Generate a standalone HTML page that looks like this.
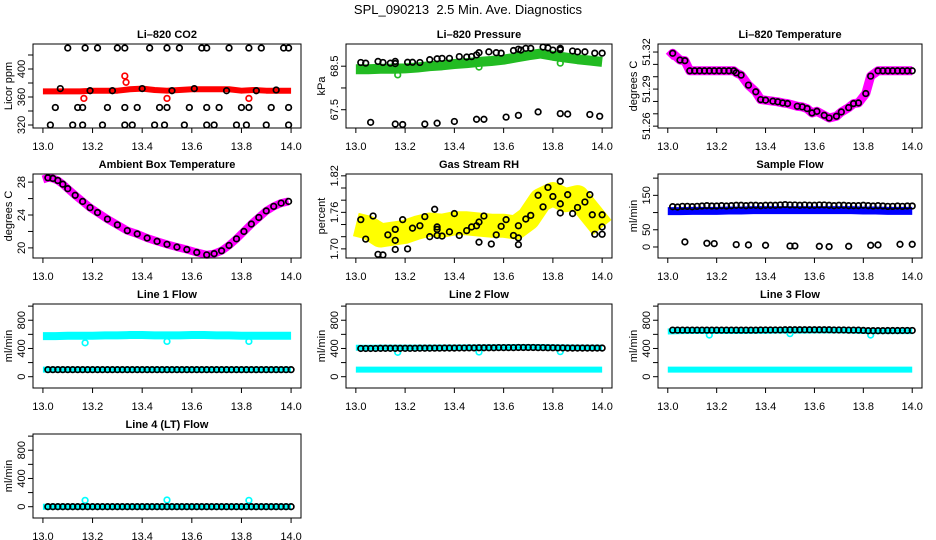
<!DOCTYPE html>
<html><head><meta charset="utf-8">
<style>
html,body{margin:0;padding:0;background:#fff;}
svg{display:block;font-family:"Liberation Sans",sans-serif;}
</style></head>
<body>
<svg id="chart" width="936" height="540" viewBox="0 0 936 540" xmlns="http://www.w3.org/2000/svg">
<rect width="936" height="540" fill="#fff"/>
<text x="468" y="14" text-anchor="middle" font-size="13">SPL_090213 &#160;2.5 Min. Ave. Diagnostics</text>
</svg>
<script>
// ---------- shared time grids ----------
const tB = [13.02,13.04,13.06,13.08,13.10,13.12,13.14,13.16,13.18,13.20,13.22,13.24,13.26,13.28,13.30,13.32,13.34,13.36,13.38,13.40,13.42,13.44,13.46,13.48,13.50,13.52,13.54,13.56,13.58,13.60,13.62,13.64,13.66,13.68,13.70,13.72,13.74,13.76,13.78,13.80,13.82,13.84,13.86,13.88,13.90,13.92,13.94,13.96,13.98,14.00];
const tBand = [13.00,13.05,13.10,13.15,13.20,13.25,13.30,13.35,13.40,13.45,13.50,13.55,13.60,13.65,13.70,13.75,13.80,13.85,13.90,13.95,14.00];
const tOut = [13.17,13.50,13.83];
const xTicks = [13.0,13.2,13.4,13.6,13.8,14.0];
const xTickLabels = ["13.0","13.2","13.4","13.6","13.8","14.0"];

// ---------- Li-820 CO2 ----------
const co2HighT = [13.10,13.17,13.22,13.30,13.33,13.43,13.50,13.55,13.64,13.66,13.75,13.83,13.88,13.97,13.99];
const co2HighV = [430,430,430,430,430,430,430,430,430,430,430,430,430,430,430];
const co2MidT = [13.05,13.14,13.16,13.26,13.33,13.38,13.47,13.50,13.59,13.66,13.71,13.80,13.83,13.92,13.99];
const co2MidV = [345,345,345,345,345,345,345,345,345,345,345,345,345,345,345];
const co2LowT = [13.03,13.12,13.16,13.24,13.33,13.36,13.45,13.49,13.57,13.66,13.69,13.78,13.82,13.90,13.99];
const co2LowV = [320,320,320,320,320,320,320,320,320,320,320,320,320,320,320];
const co2BandPtT = [13.07,13.19,13.28,13.40,13.52,13.61,13.74,13.86,13.94];
const co2BandPtV = [372,369,369,372,369,372,369,369,370];
const co2Red = [368,368,368,368,369,369,369,371,372,370,369,370,371,371,371,371,369,370,369,369,369];
const co2RedOutT = [13.33,13.335,13.165,13.50,13.83];
const co2RedOutV = [390,381,358,358,358];

// ---------- Li-820 Pressure ----------
const presHiT = [13.02,13.04,13.09,13.11,13.14,13.16,13.16,13.21,13.23,13.26,13.30,13.33,13.35,13.38,13.42,13.45,13.47,13.49,13.50,13.54,13.57,13.59,13.64,13.66,13.67,13.69,13.71,13.76,13.78,13.80,13.83,13.83,13.88,13.90,13.93,13.97,14.00];
const presHiV = [68.585,68.57,68.61,68.585,68.57,68.56,68.61,68.59,68.59,68.585,68.65,68.67,68.68,68.68,68.72,68.71,68.72,68.76,68.81,68.83,68.81,68.80,68.86,68.89,68.87,68.91,68.91,68.94,68.92,68.87,68.88,68.91,68.85,68.83,68.83,68.80,68.80];
const presLoT = [13.06,13.16,13.19,13.28,13.33,13.40,13.49,13.52,13.61,13.66,13.74,13.83,13.86,13.95,13.99];
const presLoV = [67.21,67.17,67.16,67.17,67.19,67.23,67.28,67.28,67.33,67.37,67.45,67.41,67.40,67.39,67.35];
const presBand = [68.43,68.43,68.44,68.44,68.45,68.47,68.50,68.52,68.55,68.57,68.60,68.62,68.65,68.70,68.75,68.79,68.74,68.70,68.66,68.63,68.60];
const presOutV = [68.30,68.48,68.57];

// ---------- Li-820 Temperature ----------
const tempT = [13.005,13.02,13.05,13.07,13.09,13.11,13.13,13.15,13.17,13.19,13.21,13.23,13.25,13.27,13.28,13.30,13.33,13.36,13.38,13.40,13.43,13.45,13.47,13.49,13.53,13.55,13.57,13.59,13.61,13.64,13.66,13.69,13.71,13.74,13.76,13.78,13.81,13.83,13.86,13.88,13.90,13.92,13.94,13.96,13.98,14.00];
const tempV = [51.316,51.319,51.3135,51.313,51.3048,51.3048,51.3048,51.3048,51.3048,51.3048,51.3048,51.3048,51.3048,51.3048,51.3032,51.3013,51.2932,51.2878,51.2815,51.281,51.2802,51.2797,51.2788,51.2783,51.2761,51.2756,51.2742,51.2707,51.272,51.2688,51.2666,51.268,51.2715,51.275,51.2783,51.2788,51.2864,51.3005,51.3048,51.3048,51.3048,51.3048,51.3048,51.3048,51.3048,51.3048];

// ---------- Ambient Box Temperature ----------
const ambT = [13.00,13.02,13.04,13.06,13.08,13.10,13.13,13.16,13.19,13.22,13.26,13.30,13.34,13.38,13.42,13.46,13.50,13.54,13.58,13.62,13.66,13.69,13.72,13.75,13.78,13.81,13.84,13.87,13.90,13.93,13.96,13.99];
const ambV = [28.33,28.53,28.45,28.2,27.75,27.2,26.4,25.65,24.9,24.3,23.5,22.8,22.1,21.7,21.2,20.8,20.43,20.1,19.8,19.45,19.15,19.3,19.65,20.3,21.1,22.0,22.9,23.7,24.5,25.05,25.45,25.65];

// ---------- Gas Stream RH ----------
const rhT = [13.02,13.04,13.07,13.09,13.11,13.13,13.16,13.16,13.16,13.19,13.21,13.23,13.26,13.28,13.30,13.32,13.33,13.33,13.33,13.35,13.38,13.40,13.42,13.45,13.47,13.49,13.50,13.50,13.52,13.55,13.57,13.59,13.61,13.64,13.66,13.66,13.66,13.69,13.71,13.74,13.76,13.78,13.80,13.83,13.83,13.83,13.86,13.88,13.90,13.93,13.95,13.96,13.97,14.00,14.00,14.00];
const rhV = [1.748,1.716,1.754,1.691,1.690,1.723,1.714,1.732,1.699,1.748,1.700,1.734,1.738,1.753,1.720,1.765,1.736,1.732,1.722,1.721,1.728,1.758,1.722,1.730,1.736,1.738,1.744,1.711,1.754,1.708,1.723,1.737,1.748,1.722,1.738,1.707,1.718,1.749,1.755,1.788,1.769,1.801,1.786,1.811,1.774,1.759,1.789,1.758,1.768,1.777,1.789,1.756,1.724,1.724,1.756,1.736];
const rhBand = [1.740,1.735,1.722,1.725,1.728,1.735,1.740,1.738,1.742,1.742,1.740,1.738,1.738,1.735,1.750,1.780,1.790,1.780,1.785,1.760,1.735];

// ---------- Sample Flow ----------
const sampleUpper = [117,116,118,118,117,118,119,120,119,119,120,119,120,121,121,120,121,121,120,121,121,121,122,123,122,122,121,122,121,121,122,122,121,120,121,121,120,120,120,121,120,119,120,119,118,118,119,118,119,119];
const sampleLoT = [13.07,13.16,13.19,13.28,13.33,13.40,13.50,13.52,13.62,13.66,13.74,13.83,13.86,13.95,14.00];
const sampleLoV = [14.7,10.8,9.8,6.9,5.9,4.9,2.9,2.9,2.0,1.0,2.0,4.9,5.9,7.8,7.8];
const sampleBand = [104,104,105,105,105,106,106,107,107,107,107,107,107,107,107,107,106,106,105,105,105];

// ---------- Line flows ----------
const line1Black = [100,100,100,100,100,100,100,100,100,100,100,100,100,100,100,100,100,100,100,100,100,100,100,100,100,100,100,100,100,100,100,100,100,100,100,100,100,100,100,100,100,100,100,100,100,100,100,100,100,100];
const line1CyanHi = [575,575,580,580,580,585,585,590,590,585,585,585,590,590,585,585,580,580,580,580,580];
const line1CyanLo = [100,100,100,100,100,100,100,100,100,100,100,100,100,100,100,100,100,100,100,100,100];
const line1Out = [480,500,500];
const line2Black = [400,400,400,400,402,402,402,402,402,402,402,402,404,404,404,405,405,406,406,406,407,407,408,408,410,410,410,410,412,412,412,412,414,414,414,414,412,412,410,410,408,408,406,406,406,406,406,406,406,406];
const line2CyanHi = [410,410,412,412,412,412,412,413,414,415,416,417,418,420,420,420,418,416,414,412,412];
const line2CyanLo = [100,100,100,100,100,100,100,100,100,100,100,100,100,100,100,100,100,100,100,100,100];
const line2Out = [345,350,355];
const line3Black = [660,660,660,660,660,660,660,660,660,660,660,660,660,660,660,660,660,660,662,662,662,662,662,664,664,664,665,665,665,665,665,665,665,662,662,662,660,660,660,656,652,652,652,652,654,654,654,655,655,655];
const line3CyanHi = [640,645,648,648,648,648,648,650,650,652,652,652,654,654,654,652,648,645,645,645,645];
const line3CyanLo = [100,100,100,100,100,100,100,100,100,100,100,100,100,100,100,100,100,100,100,100,100];
const line3Out = [590,610,590];
const line4Black = [0,0,0,0,0,0,0,0,0,0,0,0,0,0,0,0,0,0,0,0,0,0,0,0,0,0,0,0,0,0,0,0,0,0,0,0,0,0,0,0,0,0,0,0,0,0,0,0,0,0];
const line4Cyan = [0,0,0,0,0,0,0,0,0,0,0,0,0,0,0,0,0,0,0,0,0];
const line4Out = [90,95,90];

const flowTicks = [0,200,400,600,800,1000];
const flowLabels = ["0","","400","","800",""];

// ---------- drawing ----------
const NS = "http://www.w3.org/2000/svg";
const svg = document.getElementById("chart");
function mk(tag, attrs, parent){
  const e = document.createElementNS(NS, tag);
  for (const k in attrs) e.setAttribute(k, attrs[k]);
  (parent||svg).appendChild(e);
  return e;
}
const cols = [[33,301],[346,612],[658,922]];
function panel(name, col, row, title, ylab, ymin, ymax, yTicks, yLabels){
  const [L,R] = cols[col];
  const T = 44 + 130*row, B = T + 84;
  const g = mk("g", {});
  
  
  const xs = t => L + (t - 12.96) / 1.08 * (R - L);
  const ys = v => B - (v - ymin) / (ymax - ymin) * (B - T);
  const tt = mk("text", {x:(L+R)/2, y:T-6, "text-anchor":"middle", "font-size":11, "font-weight":"bold"}, g);
  tt.textContent = title;
  
  
  const yl = mk("text", {transform:`translate(${L-21},${(T+B)/2}) rotate(-90)`, "text-anchor":"middle", "font-size":11}, g);
  yl.textContent = ylab;
  
  
  const plot = mk("g", {}, g);
  
  
  const bx = mk("rect", {x:L, y:T, width:R-L, height:B-T, fill:"none", stroke:"#000", "stroke-width":1}, g);
  
  
  const xa = mk("g", {}, g);
  
  
  mk("line", {x1:xs(13), x2:xs(14), y1:B, y2:B, stroke:"#000"}, xa);
  xTicks.forEach((t,i)=>{
    mk("line", {x1:xs(t), x2:xs(t), y1:B, y2:B+5, stroke:"#000"}, xa);
    const lb = mk("text", {x:xs(t), y:B+22, "text-anchor":"middle", "font-size":11}, xa);
    lb.textContent = xTickLabels[i];
    
    
  });
  const ya = mk("g", {}, g);
  
  
  mk("line", {x1:L, x2:L, y1:ys(yTicks[0]), y2:ys(yTicks[yTicks.length-1]), stroke:"#000"}, ya);
  yTicks.forEach((v,i)=>{
    mk("line", {x1:L-5, x2:L, y1:ys(v), y2:ys(v), stroke:"#000"}, ya);
    if (yLabels[i]) {
      const lb = mk("text", {transform:`translate(${L-8},${ys(v)}) rotate(-90)`, "text-anchor":"middle", "font-size":11}, ya);
      lb.textContent = yLabels[i];
      
      
    }
  });
  return {
    band(ts, vs, color, w){
      const p = mk("polyline", {points: ts.map((t,i)=>xs(t)+","+ys(vs[i])).join(" "), fill:"none", stroke:color, "stroke-width":w, "stroke-linejoin":"round", "stroke-linecap":"butt"}, plot);
      
      
    },
    pts(ts, vs, color, r, sw){
      ts.forEach((t,i)=>{
        const c = mk("circle", {cx:xs(t), cy:ys(vs[i]), r:r||2.8, fill:"none", stroke:color, "stroke-width":sw||1.7}, plot);
        
        
      });
    }
  };
}

// Row 1
let p = panel("li820-co2",0,0,"Li\u2013820 CO2","Licor ppm",315.7,435.7,[320,340,360,380,400,420],["320","","360","","400",""]);
p.band(tBand, co2Red, "#ff0000", 6);
p.pts(co2RedOutT, co2RedOutV, "#ff0000");
p.pts(co2BandPtT, co2BandPtV, "#000");
p.pts(co2HighT, co2HighV, "#000");
p.pts(co2MidT, co2MidV, "#000");
p.pts(co2LowT, co2LowV, "#000");

p = panel("li820-pressure",1,0,"Li\u2013820 Pressure","kPa",67.08,69.01,[67.5,68.0,68.5],["67.5","","68.5"]);
p.band(tBand, presBand, "#22bb22", 10);
p.pts(tOut, presOutV, "#22bb22");
p.pts(presHiT, presHiV, "#000");
p.pts(presLoT, presLoV, "#000");

p = panel("li820-temperature",2,0,"Li\u2013820 Temperature","degrees C",51.2585,51.3265,[51.26,51.27,51.28,51.29,51.30,51.31,51.32],["51.26","","","51.29","","","51.32"]);
p.band(tempT, tempV, "#ff00ff", 9);
p.pts(tempT.slice(1), tempV.slice(1), "#000");

// Row 2
p = panel("ambient-box-temperature",0,1,"Ambient Box Temperature","degrees C",18.77,28.99,[20,22,24,26,28],["20","","24","","28"]);
p.band(ambT, ambV, "#ff00ff", 8);
p.pts(ambT.slice(1), ambV.slice(1), "#000");

p = panel("gas-stream-rh",1,1,"Gas Stream RH","percent",1.685,1.823,[1.70,1.72,1.74,1.76,1.78,1.80,1.82],["1.70","","","1.76","","","1.82"]);
p.band(tBand, rhBand, "#ffff00", 24);
p.pts(rhT, rhV, "#000");

p = panel("sample-flow",2,1,"Sample Flow","ml/min",-32,212,[0,50,100,150,200],["0","50","","150",""]);
p.band(tBand, sampleBand, "#0000ff", 8);
p.pts(tB, sampleUpper, "#000");
p.pts(sampleLoT, sampleLoV, "#000");

// Row 3
p = panel("line-1-flow",0,2,"Line 1 Flow","ml/min",-160,1030,flowTicks,flowLabels);
p.band(tBand, line1CyanHi, "#00ffff", 8);
p.band(tBand, line1CyanLo, "#00ffff", 6);
p.pts(tOut, line1Out, "#00ffff");
p.pts(tB, line1Black, "#000");

p = panel("line-2-flow",1,2,"Line 2 Flow","ml/min",-160,1030,flowTicks,flowLabels);
p.band(tBand, line2CyanHi, "#00ffff", 6);
p.band(tBand, line2CyanLo, "#00ffff", 6);
p.pts(tOut, line2Out, "#00ffff");
p.pts(tB, line2Black, "#000");

p = panel("line-3-flow",2,2,"Line 3 Flow","ml/min",-160,1030,flowTicks,flowLabels);
p.band(tBand, line3CyanHi, "#00ffff", 6);
p.band(tBand, line3CyanLo, "#00ffff", 6);
p.pts(tOut, line3Out, "#00ffff");
p.pts(tB, line3Black, "#000");

// Row 4
p = panel("line-4-flow",0,3,"Line 4 (LT) Flow","ml/min",-160,1030,flowTicks,flowLabels);
p.band(tBand, line4Cyan, "#00ffff", 6);
p.pts(tOut, line4Out, "#00ffff");
p.pts(tB, line4Black, "#000");
</script>
</body></html>
